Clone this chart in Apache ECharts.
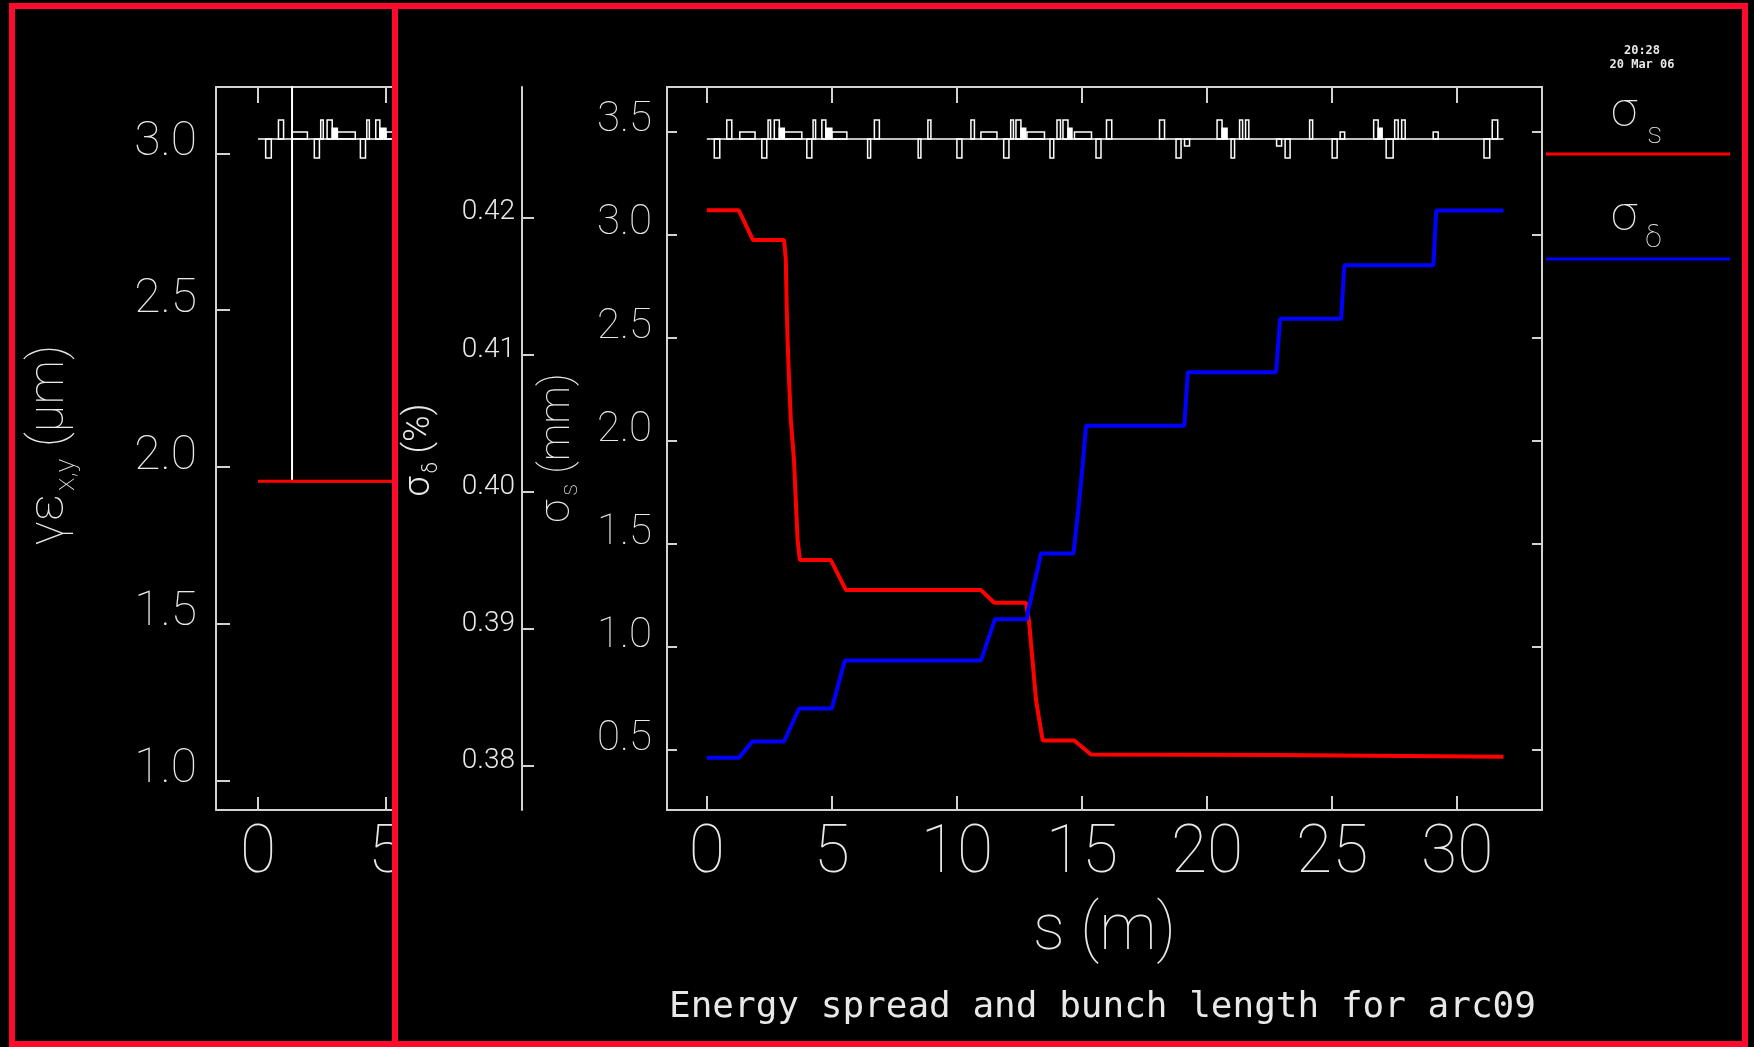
<!DOCTYPE html>
<html>
<head>
<meta charset="utf-8">
<script src="https://cdn.jsdelivr.net/npm/echarts@6/dist/echarts.min.js"></script>
<style>
html,body{margin:0;padding:0;background:#000;}
#main{width:1754px;height:1047px;}
</style>
</head>
<body>
<div id="main"></div>
<script>
// ---- data ----
// sigma_s (mm) vs s (m)
var sigmaS = [
  [0.00, 3.117], [1.28, 3.117], [1.85, 2.973], [3.09, 2.973], [3.16, 2.876], [3.19, 2.675],
  [3.23, 2.489], [3.29, 2.295], [3.36, 2.101], [3.49, 1.899], [3.56, 1.705], [3.63, 1.521],
  [3.72, 1.421], [4.96, 1.421], [5.56, 1.276], [10.96, 1.276], [11.49, 1.214], [12.76, 1.214],
  [12.89, 1.117], [13.03, 0.923], [13.16, 0.744], [13.29, 0.647], [13.43, 0.546], [14.69, 0.546],
  [15.36, 0.478], [22.83, 0.476], [22.86, 0.467], [31.85, 0.467]
];
// sigma_delta (%) vs s (m)
var sigmaD = [
  [0.00, 0.3806], [1.28, 0.3806], [1.83, 0.3818], [3.09, 0.3818], [3.69, 0.3842], [5.00, 0.3842],
  [5.52, 0.3877], [10.96, 0.3877], [11.52, 0.3907], [12.80, 0.3907], [12.85, 0.3914], [12.96, 0.3922],
  [13.09, 0.3933], [13.23, 0.3944], [13.36, 0.3955], [14.66, 0.3955], [14.87, 0.3990], [15.03, 0.4020],
  [15.16, 0.4048], [19.09, 0.4048], [19.23, 0.4087], [22.76, 0.4087], [22.92, 0.4126], [25.36, 0.4126],
  [25.49, 0.4165], [29.05, 0.4165], [29.16, 0.4205], [31.85, 0.4205]
];
// background window: gamma*eps_x,y (um)
var emitX = [[0, 1.955], [13, 1.955]];
var emitY = [[0, 3.30], [1.33, 3.30], [1.33, 1.955], [13, 1.955]];

// lattice elements: [s start, s end, kind]
var lattice = [
  [0.30,0.52,'qd'],[0.80,1.00,'qf'],[1.32,1.93,'b'],[2.20,2.40,'qd'],[2.45,2.55,'qf'],[2.70,2.90,'qf'],
  [2.90,3.10,'sx'],[3.10,3.80,'b'],[4.00,4.20,'qd'],[4.25,4.35,'qf'],[4.60,4.76,'qf'],[4.76,5.00,'sx'],
  [5.00,5.60,'b'],[6.43,6.55,'qd'],[6.70,6.90,'qf'],[8.45,8.56,'qd'],[8.84,8.96,'qf'],[10.00,10.20,'qd'],
  [10.56,10.70,'qf'],[10.96,11.60,'b'],[11.87,12.08,'qd'],[12.15,12.26,'qf'],[12.36,12.56,'qf'],[12.56,12.75,'sx'],
  [12.80,13.50,'b'],[13.72,13.87,'qd'],[14.00,14.14,'qf'],[14.24,14.44,'qf'],[14.44,14.60,'sx'],[14.70,15.38,'b'],
  [15.56,15.76,'qd'],[15.98,16.19,'qf'],[18.10,18.30,'qf'],[18.76,18.96,'qd'],[19.10,19.30,'bn'],[20.40,20.60,'qf'],
  [20.60,20.80,'sx'],[20.96,21.10,'qd'],[21.30,21.42,'qf'],[21.54,21.67,'qf'],[22.78,22.98,'bn'],[23.12,23.32,'qd'],
  [24.10,24.22,'qf'],[25.00,25.20,'qd'],[25.32,25.50,'b'],[26.66,26.84,'qf'],[26.84,27.00,'sx'],[27.16,27.44,'qd'],
  [27.50,27.64,'qf'],[27.78,27.92,'qf'],[29.04,29.24,'b'],[31.07,31.30,'qd'],[31.40,31.62,'qf']
];
var latticeLine = [[0, 0], [31.85, 0]];

var sTicks = [0, 5, 10, 15, 20, 25, 30];
var sigmaSTicks = [0.5, 1.0, 1.5, 2.0, 2.5, 3.0, 3.5];
var sigmaDTicks = [0.38, 0.39, 0.40, 0.41, 0.42];
var emitTicks = [1.0, 1.5, 2.0, 2.5, 3.0];

// ---- styles ----
var FONT = 'Roboto';
var TXT = '#e8e8e8';
var LINE = '#d2d2d2';
var RED_FRAME = '#ff0a2d';
var kindHeight = {qf: 1, qd: -1, sx: 0.56, b: 0.37, bn: -0.37};
var kindFill = {qf: 0, qd: 0, sx: 1, b: 0, bn: 0};

var latticeData = lattice.map(function (e) {
  return [e[0], e[1], kindHeight[e[2]], kindFill[e[2]]];
});

function renderLattice(params, api) {
  var p0 = api.coord([api.value(0), 0]);
  var p1 = api.coord([api.value(1), api.value(2)]);
  return {
    type: 'rect',
    shape: {x: p0[0], y: Math.min(p0[1], p1[1]), width: p1[0] - p0[0], height: Math.abs(p1[1] - p0[1])},
    style: {fill: api.value(3) ? '#fff' : 'none', stroke: '#fff', lineWidth: 1.5}
  };
}

function lbl(size, extra) {
  var o = {color: TXT, fontFamily: FONT, fontWeight: 100, fontSize: size};
  for (var k in extra) o[k] = extra[k];
  return o;
}
function richSub(size, subSize, drop, gap, weight) {
  var w = weight || 100;
  return {
    a: {fill: TXT, fontFamily: FONT, fontWeight: w, fontSize: size, lineHeight: size, verticalAlign: 'top'},
    b: {fill: TXT, fontFamily: FONT, fontWeight: w, fontSize: subSize, lineHeight: subSize,
        padding: [drop, 0, 0, gap || 2], verticalAlign: 'top'}
  };
}
var axLine = {show: true, onZero: false, lineStyle: {color: LINE, width: 2}};
var noSplit = {show: false};

var chart = echarts.init(document.getElementById('main'));
var option = {
  backgroundColor: '#000',
  animation: false,
  title: {
    text: 'Energy spread and bunch length for arc09',
    left: 664, top: 985, z: 10,
    textStyle: {color: TXT, fontFamily: 'DejaVu Sans Mono', fontWeight: 'normal', fontSize: 36}
  },
  grid: [
    {left: 216, top: 87, width: 374.8, height: 723},
    {left: 216, top: 120, width: 374.8, height: 38},
    {left: 667, top: 87, width: 875, height: 723},
    {left: 667, top: 120, width: 875, height: 38}
  ],
  xAxis: [
    {gridIndex: 0, type: 'value', position: 'bottom', min: -1.64, max: 13, z: 0,
     axisLine: axLine, splitLine: noSplit,
     axisTick: {inside: true, length: 13, customValues: sTicks, lineStyle: {color: LINE, width: 2}},
     axisLabel: lbl(66, {customValues: sTicks, margin: 12})},
    {gridIndex: 0, type: 'value', position: 'top', min: -1.64, max: 13, z: 0,
     axisLine: axLine, splitLine: noSplit, axisLabel: {show: false},
     axisTick: {inside: true, length: 16, customValues: sTicks, lineStyle: {color: LINE, width: 2}}},
    {gridIndex: 1, type: 'value', min: -1.64, max: 13, show: false},
    {gridIndex: 2, type: 'value', position: 'bottom', min: -1.59, max: 33.39, z: 5,
     axisLine: axLine, splitLine: noSplit,
     axisTick: {inside: true, length: 14, customValues: sTicks, lineStyle: {color: LINE, width: 2}},
     axisLabel: lbl(66, {customValues: sTicks, margin: 12}),
     name: 's (m)', nameLocation: 'middle', nameGap: 91,
     nameTextStyle: lbl(64, {})},
    {gridIndex: 2, type: 'value', position: 'top', min: -1.59, max: 33.39, z: 5,
     axisLine: axLine, splitLine: noSplit, axisLabel: {show: false},
     axisTick: {inside: true, length: 16, customValues: sTicks, lineStyle: {color: LINE, width: 2}}},
    {gridIndex: 3, type: 'value', min: -1.59, max: 33.39, show: false}
  ],
  yAxis: [
    {gridIndex: 0, type: 'value', position: 'left', min: 0.907, max: 3.2115, z: 0,
     axisLine: axLine, splitLine: noSplit,
     axisTick: {inside: true, length: 14, customValues: emitTicks, lineStyle: {color: LINE, width: 2}},
     axisLabel: lbl(48, {customValues: emitTicks, margin: 19, verticalAlign: 'bottom', lineHeight: 21,
       formatter: function (v) { return v.toFixed(1); }})},
    {gridIndex: 1, type: 'value', min: -1, max: 1, show: false},
    {gridIndex: 2, type: 'value', position: 'left', min: 0.209, max: 3.715, z: 5,
     axisLine: axLine, splitLine: noSplit,
     axisTick: {inside: true, length: 10, customValues: sigmaSTicks, lineStyle: {color: LINE, width: 2}},
     axisLabel: lbl(42, {customValues: sigmaSTicks, margin: 15, verticalAlign: 'bottom', lineHeight: 21,
       formatter: function (v) { return v.toFixed(1); }})},
    {gridIndex: 2, type: 'value', position: 'left', offset: 145, min: 0.3768, max: 0.4295, z: 5,
     axisLine: axLine, splitLine: noSplit,
     axisTick: {inside: true, length: 12, customValues: sigmaDTicks, lineStyle: {color: LINE, width: 2}},
     axisLabel: lbl(28, {customValues: sigmaDTicks, margin: 7, verticalAlign: 'bottom', lineHeight: 10,
       fontWeight: 300, formatter: function (v) { return v.toFixed(2); }})},
    {gridIndex: 2, type: 'value', position: 'right', min: 0.209, max: 3.715, z: 5,
     axisLine: axLine, splitLine: noSplit, axisLabel: {show: false},
     axisTick: {inside: true, length: 10, customValues: sigmaSTicks, lineStyle: {color: LINE, width: 2}}},
    {gridIndex: 3, type: 'value', min: -1, max: 1, show: false}
  ],
  series: [
    {type: 'line', xAxisIndex: 0, yAxisIndex: 0, data: emitY, z: 1, showSymbol: false, clip: true,
     lineStyle: {color: '#fff', width: 2}},
    {type: 'line', xAxisIndex: 0, yAxisIndex: 0, data: emitX, z: 1, showSymbol: false, clip: true,
     lineStyle: {color: '#ff0000', width: 3}},
    {type: 'line', xAxisIndex: 2, yAxisIndex: 1, data: latticeLine, z: 1, showSymbol: false,
     lineStyle: {color: '#fff', width: 1.5}},
    {type: 'custom', xAxisIndex: 2, yAxisIndex: 1, data: latticeData, z: 1, renderItem: renderLattice},
    {type: 'line', xAxisIndex: 5, yAxisIndex: 5, data: latticeLine, z: 6, showSymbol: false,
     lineStyle: {color: '#fff', width: 1.5}},
    {type: 'custom', xAxisIndex: 5, yAxisIndex: 5, data: latticeData, z: 6, renderItem: renderLattice},
    {name: 'sigma_s', type: 'line', xAxisIndex: 3, yAxisIndex: 2, data: sigmaS, z: 6, showSymbol: false,
     lineStyle: {color: '#ff0000', width: 4}},
    {name: 'sigma_delta', type: 'line', xAxisIndex: 3, yAxisIndex: 3, data: sigmaD, z: 6, showSymbol: false,
     lineStyle: {color: '#0000ff', width: 4}}
  ],
  graphic: {elements: [
    // front window background
    {type: 'rect', shape: {x: 398, y: 9, width: 1343, height: 1032}, style: {fill: '#000'}, z: 3},
    // axis titles
    {type: 'text', x: 558, y: 448, rotation: Math.PI / 2, z: 10,
     style: {text: '{a|σ}{b|s}{a| (mm)}', rich: richSub(42, 24, 22, 4), align: 'center', verticalAlign: 'middle'}},
    {type: 'text', x: 420, y: 450, rotation: Math.PI / 2, z: 10,
     style: {text: '{a|σ}{b|δ}{a| (%)}', rich: richSub(36, 20, 20, 3, 300), align: 'center', verticalAlign: 'middle'}},
    {type: 'text', x: 50, y: 445, rotation: Math.PI / 2, z: 1,
     style: {text: '{a|γε}{b|x,y}{a| (μm)}', rich: richSub(50, 28, 28, 3), align: 'center', verticalAlign: 'middle'}},
    // legend
    {type: 'text', x: 1611, y: 90, z: 10,
     style: {text: '{a|σ}{b|s}', rich: richSub(48, 30, 30, 10), align: 'left', verticalAlign: 'top'}},
    {type: 'line', shape: {x1: 1546, y1: 154, x2: 1730, y2: 154}, style: {stroke: '#ff0000', lineWidth: 3}, z: 10},
    {type: 'text', x: 1611, y: 194, z: 10,
     style: {text: '{a|σ}{b|δ}', rich: richSub(48, 30, 30, 8), align: 'left', verticalAlign: 'top'}},
    {type: 'line', shape: {x1: 1546, y1: 259, x2: 1730, y2: 259}, style: {stroke: '#0000ff', lineWidth: 3}, z: 10},
    // time stamp
    {type: 'text', x: 1642, y: 51, z: 10,
     style: {text: '20:28', fill: TXT, font: 'bold 12px "DejaVu Sans Mono"', align: 'center', verticalAlign: 'middle'}},
    {type: 'text', x: 1642, y: 65, z: 10,
     style: {text: '20 Mar 06', fill: TXT, font: 'bold 12px "DejaVu Sans Mono"', align: 'center', verticalAlign: 'middle'}},
    // window frames
    {type: 'rect', shape: {x: 9, y: 3, width: 1739, height: 6}, style: {fill: RED_FRAME}, z: 20},
    {type: 'rect', shape: {x: 9, y: 1041, width: 1739, height: 6}, style: {fill: RED_FRAME}, z: 20},
    {type: 'rect', shape: {x: 9, y: 3, width: 6, height: 1044}, style: {fill: RED_FRAME}, z: 20},
    {type: 'rect', shape: {x: 1742, y: 3, width: 6, height: 1044}, style: {fill: RED_FRAME}, z: 20},
    {type: 'rect', shape: {x: 392, y: 3, width: 6, height: 1044}, style: {fill: RED_FRAME}, z: 20}
  ]}
};
chart.setOption(option);
</script>
</body>
</html>
